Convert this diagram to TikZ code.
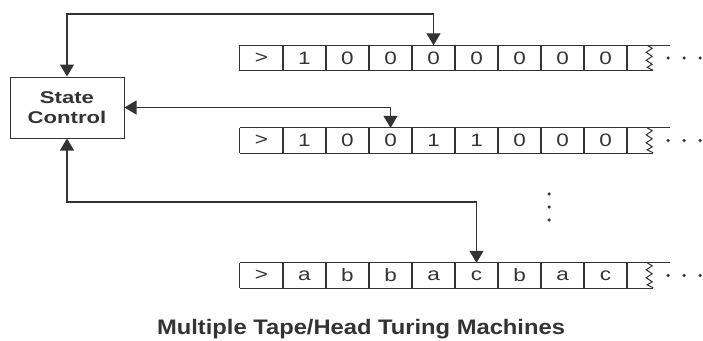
\documentclass[tikz,border=0pt]{standalone}
\usepackage{fontspec}
\setmainfont{Liberation Sans}
\usetikzlibrary{arrows.meta}
\definecolor{ink}{gray}{0.2}
\begin{document}
\begin{tikzpicture}[x=1pt,y=-1pt,
  cell/.style={minimum width=43pt,minimum height=25pt,inner sep=0pt,text=ink,font=\fontsize{18}{18}\selectfont},
  edge/.style={draw=ink,line width=1pt},
  divider/.style={draw=ink,line width=2pt},
  link/.style={draw=ink,line width=1.2pt,{Triangle[width=14pt,length=12pt]}-{Triangle[width=14pt,length=12pt]}},
  dot/.style={circle,fill=ink,inner sep=0pt,minimum size=3.5pt},
  ctrl/.style={draw=ink,line width=1pt,minimum width=114pt,minimum height=61pt,inner sep=0pt,align=center,text=ink,font=\bfseries\fontsize{17}{20}\selectfont}]

\useasboundingbox (0,0) rectangle (703,340);

\node[ctrl] (sc) at (67,107.5) {\scalebox{1.3}[1]{State}\\\scalebox{1.3}[1]{Control}};

\foreach \t/\y/\syms in {1/58/{>,1,0,0,0,0,0,0,0},2/140.5/{>,1,0,0,1,1,0,0,0},3/275.5/{>,a,b,b,a,c,b,a,c}} {
  \foreach \s [count=\i from 0] in \syms {
    \node[cell] (t\t c\i) at ({261.5+43*\i},\y) {\scalebox{1.25}[1]{\s}};
  }
}

\foreach \t in {1,2,3} {
  \draw[edge] (t\t c0.north west) -- ([xshift=43pt]t\t c8.north east);
  \draw[edge] (t\t c0.south west) -- ([xshift=26pt]t\t c8.south east);
  \draw[edge] (t\t c0.north west) -- (t\t c0.south west);
  \foreach \i in {0,...,8} {
    \draw[divider] (t\t c\i.north east) -- (t\t c\i.south east);
  }
  \draw[edge] ([xshift=20pt]t\t c8.north east) -- ++(5,3) -- ++(-6,4) -- ++(6,4) -- ++(-6,4) -- ++(6,4) -- ++(-5,3) -- ++(6,3);
  \node[dot] (t\t d1) at ([xshift=41pt]t\t c8.east) {};
  \node[dot] (t\t d2) at ([xshift=57pt]t\t c8.east) {};
  \node[dot] (t\t d3) at ([xshift=73pt]t\t c8.east) {};
}

\node[dot] (v1) at (549,194) {};
\node[dot] (v2) at (549,207) {};
\node[dot] (v3) at (549,220) {};

\coordinate (r1) at (0,14);
\coordinate (r3) at (0,202);
\draw[link] (sc.north) -- (sc.north |- r1) -| (t1c4.north);
\draw[link] (sc.east) -| (t2c3.north);
\draw[link] (sc.south) -- (sc.south |- r3) -| (t3c5.north);

\node[font=\bfseries\fontsize{21}{21}\selectfont,text=ink,anchor=base,inner sep=0pt] (cap) at (361,334) {\scalebox{1.13}[1]{Multiple Tape/Head Turing Machines}};
\end{tikzpicture}
\end{document}
